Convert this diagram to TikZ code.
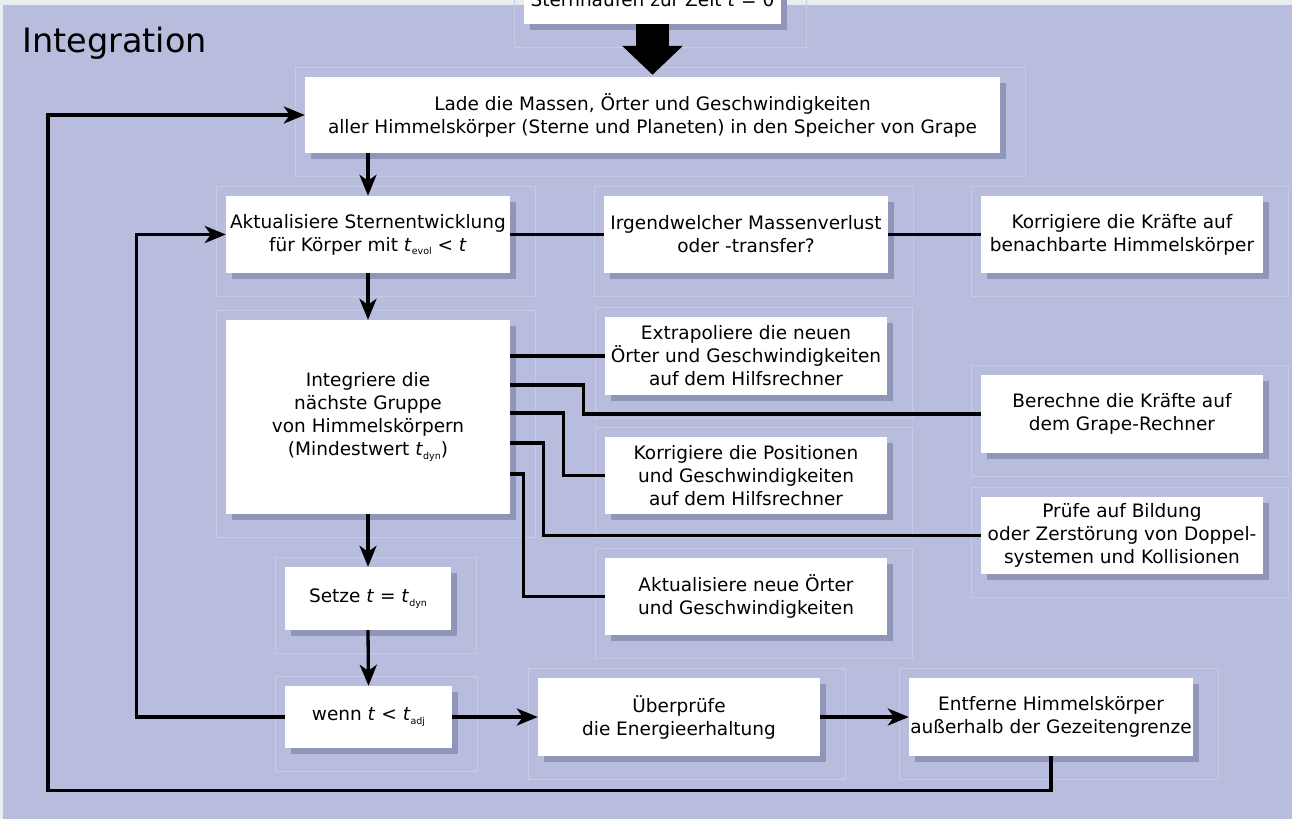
\documentclass[tikz,border=0pt]{standalone}
\usepackage{fontspec}
\setmainfont{DejaVu Sans}
\usetikzlibrary{arrows.meta,shadows,backgrounds,calc}
\definecolor{bgc}{HTML}{B8BDDD}
\definecolor{edgec}{HTML}{E9EDF0}
\definecolor{framec}{HTML}{C6CAE6}
\definecolor{shadec}{HTML}{9095BA}
\tikzset{
  bx/.style={fill=white, inner sep=0pt, align=center,
    font=\fontsize{18.5}{23}\selectfont,
    drop shadow={shadow xshift=6pt, shadow yshift=-6pt, fill=shadec, opacity=1}},
  conn/.style={line width=3.3pt, black},
  arr/.style={conn, -{Stealth[length=21pt,width=17pt,inset=6pt]}},
  frm/.style={draw=framec, line width=0.8pt},
}
\newcommand{\tv}{\textit{t}}
\newcommand{\mysub}[1]{\raisebox{-0.35ex}{\fontsize{9.5}{10}\selectfont #1}}
\begin{document}
\begin{tikzpicture}[x=1pt,y=-1pt]
\useasboundingbox (0,0) rectangle (1292,819);
\clip (0,0) rectangle (1292,819);

\node[font=\fontsize{33.5}{40}\selectfont, anchor=base west, inner sep=0pt] (title) at (22,52) {Integration};

\node[bx, minimum width=257pt, minimum height=48pt] (top) at (652.5,0) {Sternhaufen zur Zeit \tv{} = 0};
\node[bx, minimum width=695pt, minimum height=76pt] (lade) at (652.5,115) {Lade die Massen, Örter und Geschwindigkeiten\\aller Himmelskörper (Sterne und Planeten) in den Speicher von Grape};
\node[bx, minimum width=284pt, minimum height=77pt] (akt) at (368,234.5) {Aktualisiere Sternentwicklung\\für Körper mit \tv\mysub{evol} < \tv};
\node[bx, minimum width=284pt, minimum height=77pt] (irg) at (746,234.5) {Irgendwelcher Massenverlust\\oder -transfer?};
\node[bx, minimum width=282pt, minimum height=77pt] (kor) at (1122,234.5) {Korrigiere die Kräfte auf\\benachbarte Himmelskörper};
\node[bx, minimum width=284pt, minimum height=194pt] (integ) at (368,417) {Integriere die\\nächste Gruppe\\von Himmelskörpern\\(Mindestwert \tv\mysub{dyn})};
\node[bx, minimum width=282pt, minimum height=78pt] (extra) at (746,356) {Extrapoliere die neuen\\Örter und Geschwindigkeiten\\auf dem Hilfsrechner};
\node[bx, minimum width=282pt, minimum height=78pt] (ber) at (1122,414) {Berechne die Kräfte auf\\dem Grape-Rechner};
\node[bx, minimum width=282pt, minimum height=77pt] (korpos) at (746,475.5) {Korrigiere die Positionen\\und Geschwindigkeiten\\auf dem Hilfsrechner};
\node[bx, minimum width=282pt, minimum height=77pt] (pruef) at (1122,535.5) {Prüfe auf Bildung\\oder Zerstörung von Doppel-\\systemen und Kollisionen};
\node[bx, minimum width=282pt, minimum height=77pt] (aktneu) at (746,596.5) {Aktualisiere neue Örter\\und Geschwindigkeiten};
\node[bx, minimum width=166pt, minimum height=63pt] (setze) at (368,598.5) {Setze \tv{} = \tv\mysub{dyn}};
\node[bx, minimum width=167pt, minimum height=62pt] (wenn) at (368.5,717) {wenn \tv{} < \tv\mysub{adj}};
\node[bx, minimum width=282pt, minimum height=78pt] (ueber) at (679,717) {Überprüfe\\die Energieerhaltung};
\node[bx, minimum width=284pt, minimum height=78pt] (entf) at (1051,717) {Entferne Himmelskörper\\außerhalb der Gezeitengrenze};

% big arrow from top
\draw[line width=33pt, -{Triangle[width=59pt,length=29pt]}] (top.south) -- ($(lade.north)+(0,-2)$);

% main vertical flow
\draw[arr] (lade.south -| akt.north) -- (akt.north);
\draw[arr] (akt.south) -- (integ.north);
\draw[arr] (integ.south) -- (setze.north);
\draw[arr] (setze.south) -- (wenn.north);
\draw[arr] (wenn.east) -- (ueber.west);
\draw[arr] (ueber.east) -- (entf.west);

% side connections
\draw[conn] (akt.east) -- (irg.west);
\draw[conn] (irg.east) -- (kor.west);
\draw[conn] (integ.east |- extra.west) -- (extra.west);
\draw[conn] (integ.east |- 0,385) -- ++(73,0) |- (ber.west);
\draw[conn] (integ.east |- 0,413) -- ++(53,0) |- (korpos.west);
\draw[conn] (integ.east |- 0,443) -- ++(33,0) |- (pruef.west);
\draw[conn] (integ.east |- 0,474) -- ++(13,0) |- (aktneu.west);

% loops
\draw[arr] (wenn.west) -- ++(-148,0) |- (akt.west);
\draw[arr] (entf.south) -- ++(0,34) -| ++(-1003,0) |- (lade.west);

\begin{scope}[on background layer]
  \fill[edgec] (0,0) rectangle (1292,819);
  \fill[bgc] (3,5) rectangle (1292,819);
  \foreach \n in {top,lade,akt,irg,kor,integ,extra,ber,korpos,pruef,aktneu,setze,wenn,ueber,entf}
    \draw[frm] ($(\n.north west)+(-9,-9)$) rectangle ($(\n.south east)+(25,23)$);
\end{scope}
\end{tikzpicture}
\end{document}
